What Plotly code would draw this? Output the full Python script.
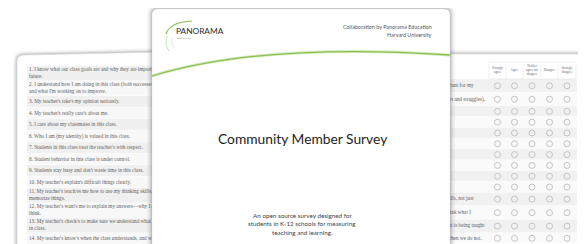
import plotly.graph_objects as go

# ---------------- data (text content) ----------------
questions = [
    "1. I know what our class goals are and why they are important for my\nfuture.",
    "2. I understand how I am doing in this class (both successes and struggles),\nand what I'm working on to improve.",
    "3. My teacher's take's my opinion seriously.",
    "4. My teacher's really care's about me.",
    "5. I care about my classmates in this class.",
    "6. Who I am (my identity) is valued in this class.",
    "7. Students in this class treat the teacher's with respect.",
    "8. Student behavior in this class is under control.",
    "9. Students stay busy and don't waste time in this class.",
    "10. My teacher's explain's difficult things clearly.",
    "11. My teacher's teach/es me how to use my thinking skills, not just\nmemorize things.",
    "12. My teacher's want's me to explain my answers\u2014why I think what I\nthink.",
    "13. My teacher's check/s to make sure we understand what is being taught\nin class.",
    "14. My teacher's know's when the class understands, and when we do not.",
]
responses = ["Strongly<br>agree", "Agree", "Neither<br>agree nor<br>disagree", "Disagree", "Strongly<br>disagree"]

title = "Community Member Survey"
subtitle = ["An open source survey designed for",
            "students in K-12 schools for measuring",
            "teaching and learning."]
credit = ["Collaboration by Panorama Education", "Harvard University"]
brand = "PANORAMA"
brand_sub = "EDUCATION"

# ---------------- layout constants ----------------
W, H = 586, 244
OFF = 8  # page body margin of the html page: shift the coordinate frame so it matches the window
GREEN = "#8cc152"
shapes = []
annotations = []

def rect(x0, y0, x1, y1, fill, line=None, layer="below", opacity=1):
    shapes.append(dict(type="rect", x0=x0, y0=y0, x1=x1, y1=y1, fillcolor=fill,
                       line=dict(width=0 if line is None else 0.6, color=line or fill),
                       layer=layer, opacity=opacity))

def path(d, fill=None, line=None, lw=0, layer="below", opacity=1):
    shapes.append(dict(type="path", path=d, fillcolor=fill or "rgba(0,0,0,0)",
                       line=dict(width=lw, color=line or "rgba(0,0,0,0)"),
                       layer=layer, opacity=opacity))

# --- left sheet (behind) ---
for k, op in [(4, 0.04), (2.5, 0.07), (1.2, 0.11)]:
    path(f"M {17-k},260 L {17-k},{62} Q {17-k},{55-k} {24},{55-k} L 300,{49-k} L 300,260 Z",
         fill="#000", opacity=op)
path("M 17,260 L 17,62 Q 17,55 24,55 L 300,49 L 300,260 Z", fill="#ffffff", line="#d9d9d9", lw=0.6)

# --- right sheet (behind) ---
for k, op in [(4, 0.04), (2.5, 0.07), (1.2, 0.11)]:
    path(f"M 300,{54-k} L 577,{54-k} Q {584+k},{54-k} {584+k},{61} L {584+k},260 L 300,260 Z",
         fill="#000", opacity=op)
path("M 300,54 L 577,54 Q 584,54 584,61 L 584,260 L 300,260 Z", fill="#ffffff", line="#d9d9d9", lw=0.6)

# left sheet rows
nlines = [q.count("\n") + 1 for q in questions]
y = 66.0
left_y = []
for i, n in enumerate(nlines):
    h = 15.0 if n == 2 else 11.5
    rect(27, y, 300, y + h, "#f0f0f0" if i % 2 == 0 else "#f8f8f8")
    shapes.append(dict(type="line", x0=27, x1=300, y0=y + h, y1=y + h,
                       line=dict(color="#ffffff", width=0.8), layer="below"))
    left_y.append(y + h / 2)
    y += h

# right sheet rows
y = 79.0
right_y = []
for i, n in enumerate(nlines):
    h = 13.5 if n == 2 else 10.8
    rect(300, y, 577, y + h, "#f1f1f1" if i % 2 == 0 else "#fafafa")
    shapes.append(dict(type="line", x0=300, x1=577, y0=y + h, y1=y + h,
                       line=dict(color="#ffffff", width=0.8), layer="below"))
    right_y.append(y + h / 2)
    y += h

# header box on right sheet
col_x = [497.5, 514.5, 532, 549.5, 567]
col_edges = [489, 506, 523, 541, 558, 576]
rect(489, 62, 576, 79, "#ffffff", line="#e2e2e2")
for e in col_edges[1:-1]:
    shapes.append(dict(type="line", x0=e, x1=e, y0=62, y1=79,
                       line=dict(color="#e6e6e6", width=0.5), layer="below"))

traces = []
# left sheet text (right part hidden under the front sheet)
traces.append(go.Scatter(
    x=[29] * len(questions), y=left_y,
    text=[q.replace("\n", "<br>") for q in questions],
    mode="text", textposition="middle right",
    textfont=dict(family="Liberation Serif", size=5.2, color="#5e5e5e"),
    hoverinfo="skip", showlegend=False))

# right sheet text: only the tail of each first line peeks out from under the front sheet
X0_R, CW, END_MAX, EDGE = 290, 2.7, 485, 449
rx, ry, rt = [], [], []
for q, yy in zip(questions, right_y):
    line1 = q.split("\n")[0]
    end = min(X0_R + len(line1) * CW, END_MAX)
    if end > EDGE + 4:
        k = int((end - EDGE) / 2.2) + 3
        rx.append(end); ry.append(yy); rt.append(line1[-k:])
traces.append(go.Scatter(
    x=rx, y=ry, text=rt, mode="text", textposition="middle left",
    textfont=dict(family="Liberation Serif", size=5.2, color="#5e5e5e"),
    hoverinfo="skip", showlegend=False))
# header labels
traces.append(go.Scatter(
    x=col_x, y=[70.5] * 5, text=responses, mode="text", textposition="middle center",
    textfont=dict(family="Liberation Serif", size=3.2, color="#666"),
    hoverinfo="skip", showlegend=False))
# response circles
cx, cy = [], []
for yy in right_y:
    for xx in col_x:
        cx.append(xx); cy.append(yy)
traces.append(go.Scatter(
    x=cx, y=cy, mode="markers",
    marker=dict(symbol="circle-open", size=6, color="#c4c4c4", line=dict(width=1)),
    hoverinfo="skip", showlegend=False))

# --- front sheet (above) ---
FX0, FX1, FY0 = 152, 450, 9
for k, op in [(5, 0.04), (3.2, 0.06), (1.8, 0.09), (0.8, 0.12)]:
    path(f"M {FX0-k},260 L {FX0-k},{FY0+6} Q {FX0-k},{FY0-k} {FX0+6},{FY0-k} "
         f"L {FX1-6},{FY0-k} Q {FX1+k},{FY0-k} {FX1+k},{FY0+6} L {FX1+k},260 Z",
         fill="#000", opacity=op, layer="above")
path(f"M {FX0},260 L {FX0},{FY0+6} Q {FX0},{FY0} {FX0+6},{FY0} L {FX1-6},{FY0} "
     f"Q {FX1},{FY0} {FX1},{FY0+6} L {FX1},260 Z", fill="#ffffff", line="#e3e3e3", lw=0.5, layer="above")

# green swoosh across front sheet
path("M 152,76 C 230,52 330,47 450,55", line="#d6eac2", lw=3, layer="above")
path("M 152,76 C 230,52 330,47 450,55", line=GREEN, lw=1.3, layer="above")

# logo leaf
path("M 166,34 Q 170,22 192,21", line=GREEN, lw=1.2, layer="above")
path("M 167,36 Q 164,44 169,51", line="#c9e3b0", lw=1, layer="above")
path("M 172,38 Q 171,44 174,48", line="#d0d0d0", lw=0.6, layer="above")

annotations.append(dict(x=174, y=31, text=brand, showarrow=False, xanchor="left", yanchor="middle",
                        font=dict(family="Lato", size=8.3, color="#2b2b2b")))
annotations.append(dict(x=175, y=37.5, text=brand_sub, showarrow=False, xanchor="left", yanchor="middle",
                        font=dict(family="Lato", size=2.6, color="#8aa872")))
annotations.append(dict(x=434, y=27, text=credit[0], showarrow=False, xanchor="right", yanchor="middle",
                        font=dict(family="Lato", size=5.4, color="#555")))
annotations.append(dict(x=434, y=35, text=credit[1], showarrow=False, xanchor="right", yanchor="middle",
                        font=dict(family="Lato", size=5.4, color="#555")))
annotations.append(dict(x=302, y=138, text=title, showarrow=False, xanchor="center", yanchor="middle",
                        font=dict(family="Lato", size=13.8, color="#1e1e1e")))
for i, s in enumerate(subtitle):
    annotations.append(dict(x=302, y=215 + i * 8.5, text=s, showarrow=False, xanchor="center",
                            yanchor="middle", font=dict(family="Lato", size=6.3, color="#444")))

fig = go.Figure(traces)
fig.update_layout(
    width=W, height=H, margin=dict(l=0, r=0, t=0, b=0),
    paper_bgcolor="#ffffff", plot_bgcolor="#ffffff",
    xaxis=dict(range=[OFF, W + OFF], visible=False, fixedrange=True),
    yaxis=dict(range=[H + OFF, OFF], visible=False, fixedrange=True),
    shapes=shapes, annotations=annotations, showlegend=False,
)
fig.write_html("out.html")
